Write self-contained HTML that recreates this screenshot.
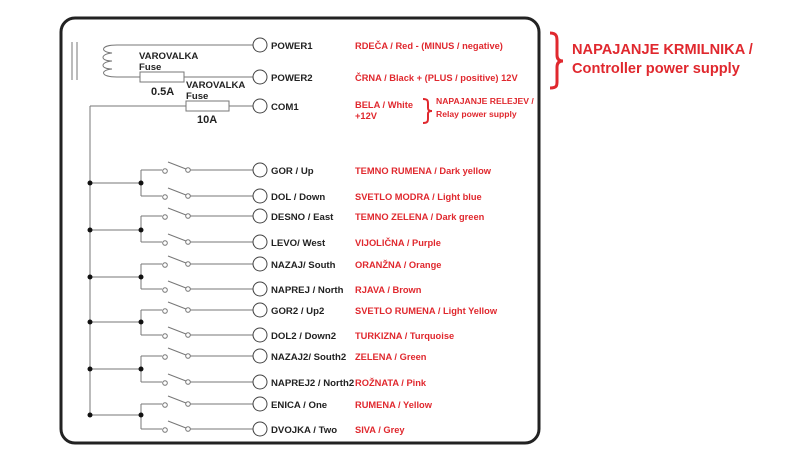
<!DOCTYPE html>
<html><head><meta charset="utf-8"><style>
html,body{margin:0;padding:0;background:#fff;}
svg{display:block;font-family:"Liberation Sans",sans-serif;}
.k{font-size:9.6px;fill:#222;font-weight:bold;}
.r{font-size:9.3px;fill:#e0282e;font-weight:bold;}
</style></head><body>
<svg width="800" height="450" viewBox="0 0 800 450">
<defs>
<g id="sw" stroke="#777" stroke-width="1" fill="#fff">
<line x1="141" y1="0" x2="162" y2="0"/>
<circle cx="165" cy="1" r="2.3"/>
<line x1="168" y1="-8" x2="186" y2="-1"/>
<circle cx="188" cy="0" r="2.3"/>
<line x1="190" y1="0" x2="253" y2="0"/>
<circle cx="260" cy="0" r="7" stroke="#444"/>
</g>
</defs>
<rect x="61" y="18" width="478" height="425" rx="14" fill="none" stroke="#222" stroke-width="3"/>
<g stroke="#777" stroke-width="1" fill="none">
<line x1="72" y1="42" x2="72" y2="80"/><line x1="77" y1="42" x2="77" y2="80"/>
<path d="M117 45 C100 45 100 52 112 53 C100 54 100 61 112 61 C100 62 100 69 112 69 C100 70 100 77 117 77"/>
<line x1="117" y1="45" x2="253" y2="45"/>
<line x1="117" y1="77" x2="140" y2="77"/>
<rect x="140" y="72" width="44" height="10" fill="#fff"/>
<line x1="184" y1="77" x2="253" y2="77"/>
<line x1="90" y1="106" x2="186" y2="106"/>
<rect x="186" y="101" width="43" height="10" fill="#fff"/>
<line x1="229" y1="106" x2="253" y2="106"/>
<line x1="90" y1="106" x2="90" y2="415"/>
<path d="M90 183H141M141 170V196M90 230H141M141 216V242M90 277H141M141 264V289M90 322H141M141 310V335M90 369H141M141 356V382M90 415H141M141 404V429"/>
</g>
<g fill="#fff" stroke="#444"><circle cx="260" cy="45" r="7"/><circle cx="260" cy="77" r="7"/><circle cx="260" cy="106" r="7"/></g>
<g fill="#111">
<circle cx="90" cy="183" r="2.5"/><circle cx="141" cy="183" r="2.5"/>
<circle cx="90" cy="230" r="2.5"/><circle cx="141" cy="230" r="2.5"/>
<circle cx="90" cy="277" r="2.5"/><circle cx="141" cy="277" r="2.5"/>
<circle cx="90" cy="322" r="2.5"/><circle cx="141" cy="322" r="2.5"/>
<circle cx="90" cy="369" r="2.5"/><circle cx="141" cy="369" r="2.5"/>
<circle cx="90" cy="415" r="2.5"/><circle cx="141" cy="415" r="2.5"/>
</g>
<use href="#sw" y="170"/><use href="#sw" y="196"/><use href="#sw" y="216"/><use href="#sw" y="242"/>
<use href="#sw" y="264"/><use href="#sw" y="289"/><use href="#sw" y="310"/><use href="#sw" y="335"/>
<use href="#sw" y="356"/><use href="#sw" y="382"/><use href="#sw" y="404"/><use href="#sw" y="429"/>
<g class="k">
<text x="139" y="59">VAROVALKA</text><text x="139" y="70">Fuse</text>
<text x="151" y="95" font-size="11">0.5A</text>
<text x="186" y="88">VAROVALKA</text><text x="186" y="99">Fuse</text>
<text x="197" y="123" font-size="11">10A</text>
<text x="271" y="49">POWER1</text><text x="271" y="81">POWER2</text><text x="271" y="110">COM1</text>
<text x="271" y="174">GOR / Up</text><text x="271" y="200">DOL / Down</text>
<text x="271" y="220">DESNO / East</text><text x="271" y="246">LEVO/ West</text>
<text x="271" y="268">NAZAJ/ South</text><text x="271" y="293">NAPREJ / North</text>
<text x="271" y="314">GOR2 / Up2</text><text x="271" y="339">DOL2 / Down2</text>
<text x="271" y="360">NAZAJ2/ South2</text><text x="271" y="386">NAPREJ2 / North2</text>
<text x="271" y="408">ENICA / One</text><text x="271" y="433">DVOJKA / Two</text>
</g>
<g class="r">
<text x="355" y="49">RDEČA / Red  -  (MINUS / negative)</text>
<text x="355" y="81">ČRNA / Black  + (PLUS / positive) 12V</text>
<text x="355" y="108">BELA / White</text><text x="355" y="119">+12V</text>
<text x="436" y="104" font-size="8.6">NAPAJANJE RELEJEV /</text>
<text x="436" y="117" font-size="8.6">Relay power supply</text>
<text x="355" y="174">TEMNO RUMENA / Dark yellow</text>
<text x="355" y="200">SVETLO MODRA / Light blue</text>
<text x="355" y="220">TEMNO ZELENA / Dark green</text>
<text x="355" y="246">VIJOLIČNA / Purple</text>
<text x="355" y="268">ORANŽNA / Orange</text>
<text x="355" y="293">RJAVA / Brown</text>
<text x="355" y="314">SVETLO RUMENA / Light Yellow</text>
<text x="355" y="339">TURKIZNA / Turquoise</text>
<text x="355" y="360">ZELENA / Green</text>
<text x="355" y="386">ROŽNATA / Pink</text>
<text x="355" y="408">RUMENA / Yellow</text>
<text x="355" y="433">SIVA / Grey</text>
<text x="572" y="54" font-size="14.6">NAPAJANJE KRMILNIKA /</text>
<text x="572" y="73" font-size="14.6">Controller power supply</text>
</g>
<g fill="none" stroke="#e0282e" stroke-width="3">
<path d="M550 33 C558 33 557 38 557 45 L557 55 C557 59 559 61 563 61 C559 61 557 63 557 67 L557 78 C557 85 558 88 550 88"/>
<path d="M423 99 C428 99 428 101 428 104 L428 108 C428 110 429 111 432 111 C429 111 428 112 428 114 L428 118 C428 121 428 123 423 123" stroke-width="2"/>
</g>
</svg>
</body></html>
